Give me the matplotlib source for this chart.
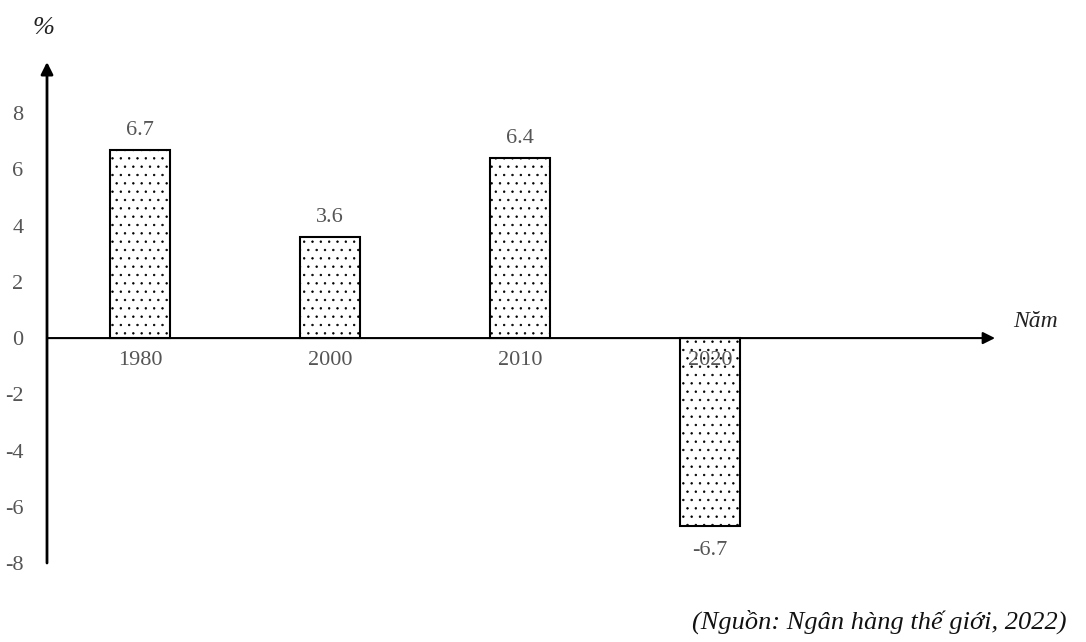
import matplotlib
matplotlib.use("Agg")
import matplotlib.pyplot as plt

years = ["1980", "2000", "2010", "2020"]
values = [6.7, 3.6, 6.4, -6.7]
yticks = [-8, -6, -4, -2, 0, 2, 4, 6, 8]

plt.rcParams['font.family'] = ['Liberation Serif', 'DejaVu Serif']
plt.rcParams['hatch.linewidth'] = 0.5
plt.rcParams['hatch.color'] = '#000000'

W, H = 1086, 642
fig = plt.figure(figsize=(W / 100, H / 100), dpi=100)
left, right, bottom, top = 47, 995, 563, 62
ax = fig.add_axes([left / W, 1 - bottom / H, (right - left) / W, (bottom - top) / H])

ax.set_xlim(-0.489, 4.5)
ax.set_ylim(-8, 9.82)
for s in ax.spines.values():
    s.set_visible(False)

x = list(range(len(years)))
ax.bar(x, values, width=0.316, facecolor='white', edgecolor='black',
       linewidth=1.5, hatch='..', zorder=2)

# axes lines with arrows
ax.annotate('', xy=(4.5, 0), xytext=(-0.489, 0),
            arrowprops=dict(arrowstyle='-|>', color='black', lw=1.5,
                            mutation_scale=18, shrinkA=0, shrinkB=0), zorder=3)
ax.annotate('', xy=(-0.489, 9.82), xytext=(-0.489, -8),
            arrowprops=dict(arrowstyle='-|>', color='black', lw=2,
                            mutation_scale=18, shrinkA=0, shrinkB=0),
            annotation_clip=False, zorder=3)

ax.set_xticks([])
ax.set_yticks(yticks)
ax.set_yticklabels([str(t) for t in yticks], color='#555555', fontsize=16)
ax.tick_params(axis='y', length=0, pad=17)

for xi, v, yr in zip(x, values, years):
    if v >= 0:
        ax.text(xi, v + 0.35, f"{v}", ha='center', va='bottom', fontsize=16, color='#555555')
    else:
        ax.text(xi, v - 0.5, f"{v}", ha='center', va='top', fontsize=16, color='#555555')
    ax.text(xi, -0.45, yr, ha='center', va='top', fontsize=16, color='#555555', zorder=4)

fig.text(33 / W, 1 - 28 / H, "%", ha='left', va='center', fontsize=19, style='italic', color='#222222')
fig.text(1035 / W, 1 - 322 / H, "Năm", ha='center', va='center', fontsize=17, style='italic', color='#222222')
fig.text(1066 / W, 1 - 622 / H, "(Nguồn: Ngân hàng thế giới, 2022)", ha='right', va='center',
         fontsize=19, style='italic', color='#111111')

fig.savefig("out.png", dpi=100)
